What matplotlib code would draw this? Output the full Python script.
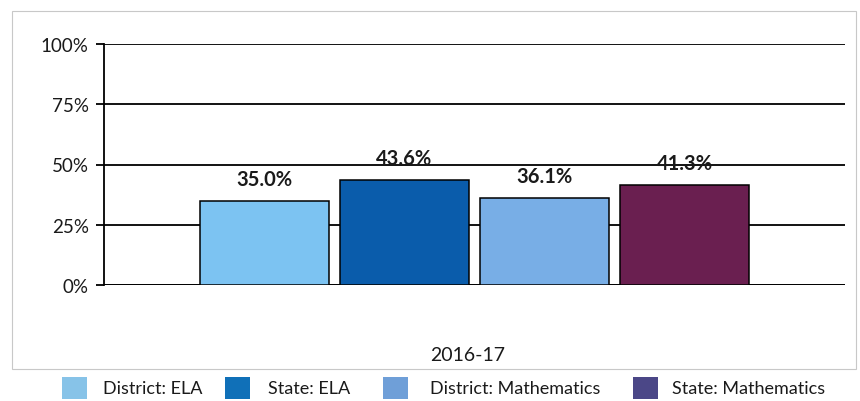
import matplotlib
matplotlib.use("Agg")
import matplotlib.pyplot as plt
from matplotlib.patches import Rectangle

categories = ["2016-17"]
series = ["District: ELA", "State: ELA", "District: Mathematics", "State: Mathematics"]
values = [35.0, 43.6, 36.1, 41.3]
bar_colors = ["#7cc3f2", "#0a5cab", "#78aee6", "#6a1f50"]
legend_colors = ["#87c3e8", "#1070b8", "#6f9fd8", "#4b4787"]
yticks = [0, 25, 50, 75, 100]
ytick_labels = ["0%", "25%", "50%", "75%", "100%"]

plt.rcParams['font.family'] = ['Lato', 'DejaVu Sans']

W, H = 860, 402
fig = plt.figure(figsize=(W/100, H/100), dpi=100)

# outer chart border
fig.add_artist(Rectangle((12/W, (H-370)/H), 844/W, 358/H, transform=fig.transFigure,
                         fill=False, edgecolor="#c8c8c8", linewidth=0.8))

ax = fig.add_axes([104/W, (H-286)/H, (845-104)/W, (286-45)/H])
width = 0.173
step = 0.189
for i, (s, v, c) in enumerate(zip(series, values, bar_colors)):
    x = (i - 1.5) * step
    ax.bar(x, v, width=width, color=c, edgecolor="black", linewidth=1.1, zorder=3)
    ax.text(x, v + 5.0, f"{v:.1f}%", ha="center", va="bottom", fontsize=14.5,
            fontweight="bold", color="#1a1a1a", zorder=4)

ax.set_xlim(-0.5, 0.5)
ax.set_ylim(0, 100)
ax.set_yticks(yticks)
ax.set_yticklabels(ytick_labels, fontsize=13.5, color="#1a1a1a")
ax.set_xticks([])
ax.yaxis.grid(True, color="black", linewidth=1.3, zorder=0)
for sp in ["top", "right", "bottom"]:
    ax.spines[sp].set_visible(False)
ax.spines["left"].set_linewidth(1.3)
ax.axhline(0, color="black", linewidth=1.3, zorder=2)
ax.tick_params(axis="y", length=6, width=1.3, pad=5, color="black")

fig.text(468/W, (H-356)/H, categories[0], ha="center", va="center", fontsize=14, color="#1a1a1a")

sw_x = [62, 225, 383, 633]
tx_x = [103, 268, 430, 672]
for sx, tx, s, c in zip(sw_x, tx_x, series, legend_colors):
    fig.add_artist(Rectangle((sx/W, (H-400)/H), 25/W, 22/H, transform=fig.transFigure,
                             facecolor=c, edgecolor="none"))
    fig.text(tx/W, (H-389)/H, s, ha="left", va="center", fontsize=13, color="#1a1a1a")

fig.savefig("out.png", dpi=100)
